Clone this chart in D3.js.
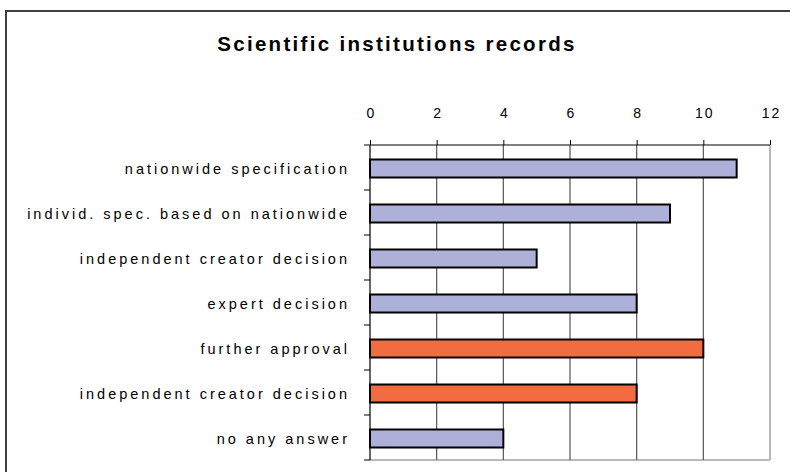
<!DOCTYPE html>
<html>
<head>
<meta charset="utf-8">
<script src="https://cdn.jsdelivr.net/npm/d3@7"></script>
<style>
  body { margin: 0; background: #fff; }
  text { font-family: "Liberation Sans", Arial, sans-serif; fill: #000; }
</style>
</head>
<body>
<div id="chart"></div>
<script>
// chart data
let categories = [
  "nationwide specification",
  "individ. spec. based on nationwide",
  "independent creator decision",
  "expert decision",
  "further approval ",
  "independent creator decision ",
  "no any answer"
];
let values = [11, 9, 5, 8, 10, 8, 4];
let groups = ["a", "a", "a", "a", "b", "b", "a"];
let xTicks = [0, 2, 4, 6, 8, 10, 12];
let title = "Scientific institutions records";

let colors = { a: "#adb0d8", b: "#f26b41" };

let width = 790, height = 472;
let plot = { left: 370, right: 770, top: 145, bottom: 460 };

let svg = d3.select("#chart").append("svg")
  .attr("width", width)
  .attr("height", height);

// outer frame
svg.append("rect")
  .attr("x", 6).attr("y", 11)
  .attr("width", 800).attr("height", 480)
  .attr("fill", "none")
  .attr("stroke", "#404040")
  .attr("stroke-width", 2);

svg.append("text")
  .attr("x", 397).attr("y", 51)
  .attr("text-anchor", "middle")
  .attr("font-size", 20.5)
  .attr("font-weight", "bold")
  .style("letter-spacing", "2.3px")
  .text(title);

let x = d3.scaleLinear().domain([0, 12]).range([plot.left, plot.right]);
let y = d3.scaleBand().domain(d3.range(categories.length))
  .range([plot.top, plot.bottom]);

let g = svg.append("g");

// plot area border (light gray right and bottom)
g.append("line")
  .attr("x1", x(12)).attr("x2", x(12))
  .attr("y1", plot.top).attr("y2", plot.bottom)
  .attr("stroke", "#b8b8b8").attr("stroke-width", 2);
g.append("line")
  .attr("x1", plot.left).attr("x2", x(12))
  .attr("y1", plot.bottom).attr("y2", plot.bottom)
  .attr("stroke", "#b8b8b8").attr("stroke-width", 2);

// vertical gridlines
g.selectAll(".grid")
  .data(xTicks.filter(d => d > 0 && d < 12))
  .enter().append("line")
  .attr("class", "grid")
  .attr("x1", d => x(d)).attr("x2", d => x(d))
  .attr("y1", plot.top).attr("y2", plot.bottom)
  .attr("stroke", "#555").attr("stroke-width", 1.2);

// top axis
let xAxis = d3.axisTop(x).tickValues(xTicks).tickSize(5).tickPadding(22);
let ax = g.append("g").attr("transform", "translate(0," + plot.top + ")").call(xAxis);
ax.attr("font-size", 14).attr("font-family", "'Liberation Sans', Arial, sans-serif");
ax.select(".domain").attr("stroke", "#000").attr("d", "M" + plot.left + ",0H" + plot.right);
ax.selectAll(".tick line").attr("stroke", "#000");
ax.selectAll(".tick text")
  .style("letter-spacing", "2px")
  .attr("dx", "1px");

// left axis line and ticks between categories
g.append("line")
  .attr("x1", plot.left).attr("x2", plot.left)
  .attr("y1", plot.top).attr("y2", plot.bottom)
  .attr("stroke", "#000").attr("stroke-width", 1.2);
g.selectAll(".ytick")
  .data(d3.range(categories.length + 1))
  .enter().append("line")
  .attr("x1", plot.left - 6).attr("x2", plot.left)
  .attr("y1", d => plot.top + d * y.step())
  .attr("y2", d => plot.top + d * y.step())
  .attr("stroke", "#000");

// bars
let barH = 18;
g.selectAll(".bar")
  .data(values)
  .enter().append("rect")
  .attr("class", "bar")
  .attr("x", x(0))
  .attr("y", (d, i) => y(i) + y.bandwidth() / 2 - barH / 2 + 1)
  .attr("width", d => x(d) - x(0))
  .attr("height", barH)
  .attr("fill", (d, i) => colors[groups[i]])
  .attr("stroke", "#000")
  .attr("stroke-width", 2);

// category labels
g.selectAll(".label")
  .data(categories)
  .enter().append("text")
  .attr("x", 350)
  .attr("y", (d, i) => y(i) + y.bandwidth() / 2 + 1)
  .attr("dy", "0.35em")
  .attr("text-anchor", "end")
  .attr("font-size", 14.5)
  .style("letter-spacing", "3px")
  .text(d => d);
</script>
</body>
</html>
